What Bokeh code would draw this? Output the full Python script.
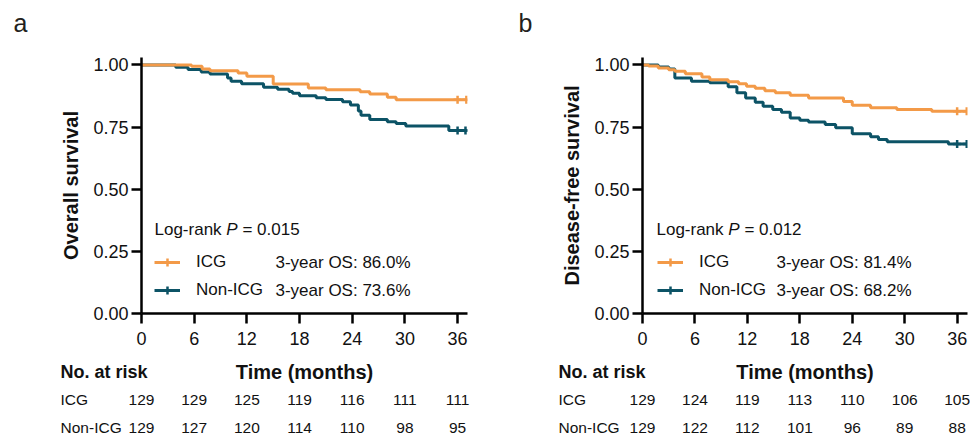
from bokeh.plotting import figure
from bokeh.models import (ColumnDataSource, FixedTicker, PrintfTickFormatter, Label,
                          Legend, LegendItem, Range1d)
from bokeh.layouts import row, column
from bokeh.core.properties import value
from bokeh.embed import file_html
from bokeh.resources import INLINE

# ---------------- data ----------------
month_ticks = [0, 6, 12, 18, 24, 30, 36]
surv_ticks = [0, 0.25, 0.5, 0.75, 1.0]
groups = ["ICG", "Non-ICG"]

os_icg_t = [0, 5.7, 6.9, 7.8, 11.0, 12.0, 15.0, 19.0, 21.0, 24.9, 26.0, 28.0, 29.0, 37.1]
os_icg_s = [1.0, 0.995, 0.984, 0.977, 0.968, 0.955, 0.923, 0.907, 0.900, 0.892, 0.883, 0.870, 0.860, 0.860]
os_non_t = [0, 3.9, 5.3, 6.8, 7.8, 9.8, 10.2, 11.4, 13.9, 15.5, 16.8, 17.2, 18.0, 19.9, 21.0,
            22.9, 23.8, 24.7, 25.0, 26.0, 28.0, 29.0, 30.1, 35.0, 37.1]
os_non_s = [1.0, 0.991, 0.982, 0.972, 0.964, 0.948, 0.934, 0.924, 0.910, 0.902, 0.893, 0.886, 0.876,
            0.868, 0.861, 0.852, 0.839, 0.815, 0.798, 0.781, 0.771, 0.764, 0.754, 0.736, 0.736]
os_icg_cens_t = [36.0, 37.0]
os_non_cens_t = [36.0, 36.9]

dfs_icg_t = [0, 0.7, 1.8, 3.0, 3.7, 4.9, 6.8, 7.7, 9.8, 11.0, 11.9, 12.9, 14.0, 15.2, 16.9, 19.0,
             23.0, 24.0, 26.1, 29.1, 33.1, 37.1]
dfs_icg_s = [1.0, 0.996, 0.988, 0.981, 0.975, 0.965, 0.952, 0.940, 0.932, 0.924, 0.914, 0.906,
             0.896, 0.888, 0.878, 0.867, 0.853, 0.838, 0.828, 0.821, 0.814, 0.814]
dfs_non_t = [0, 1.8, 3.0, 3.7, 5.6, 7.7, 9.8, 10.8, 11.8, 12.9, 13.8, 14.9, 15.9, 16.9, 18.0, 19.0,
             20.9, 22.1, 24.0, 26.1, 27.0, 28.0, 35.0, 37.1]
dfs_non_s = [1.0, 0.992, 0.984, 0.948, 0.934, 0.928, 0.912, 0.888, 0.867, 0.850, 0.834, 0.821,
             0.810, 0.787, 0.778, 0.770, 0.760, 0.747, 0.723, 0.711, 0.700, 0.691, 0.682, 0.682]
dfs_icg_cens_t = [36.0, 37.1]
dfs_non_cens_t = [36.0, 37.1]

os_risk_icg = [129, 129, 125, 119, 116, 111, 111]
os_risk_non = [129, 127, 120, 114, 110, 98, 95]
dfs_risk_icg = [129, 124, 119, 113, 110, 106, 105]
dfs_risk_non = [129, 122, 112, 101, 96, 89, 88]

os_p = "0.015"
dfs_p = "0.012"
os_rates = ["86.0%", "73.6%"]
dfs_rates = ["81.4%", "68.2%"]

# ---------------- style ----------------
ORANGE = "#F39A48"
TEAL = "#0C5366"
TXT = "#111111"
FONT = "Liberation Sans"
PXM = {"a": 8.78, "b": 8.74}   # pixels per month (layout)

LET_H = 46
KM_H = 352 - LET_H
RISK_H = 84


def letter_panel(letter, width, lx):
    lf = figure(width=width, height=LET_H, output_backend="svg", toolbar_location=None,
                x_range=Range1d(0, width), y_range=Range1d(LET_H, 0),
                min_border=0, min_border_left=0, min_border_right=0,
                min_border_top=0, min_border_bottom=0)
    lf.axis.visible = False
    lf.grid.grid_line_color = None
    lf.outline_line_color = None
    lf.text(x=[lx], y=[22], text=[letter], text_font=value(FONT), text_font_size="25px",
            text_color="#231f20", text_baseline="middle")
    return lf


def km_panel(letter, ylabel, icg_t, icg_s, non_t, non_s, icg_c, non_c, pval, rates,
             width, border_left, border_right, text_x, os_x, leg_x):
    pxm = PXM[letter]
    x_end = (width - border_left - border_right) / pxm
    p = figure(width=width, height=KM_H, output_backend="svg", toolbar_location=None,
               x_range=Range1d(0, x_end), y_range=Range1d(0, 1.03),
               min_border_left=border_left, min_border_right=border_right,
               min_border_top=57 - LET_H, min_border_bottom=39)
    p.outline_line_color = None
    p.grid.grid_line_color = None
    p.border_fill_color = "white"

    for ax in (p.xaxis[0], p.yaxis[0]):
        ax.axis_line_width = 2.5
        ax.axis_line_color = "black"
        ax.major_tick_line_width = 2.5
        ax.major_tick_line_color = "black"
        ax.major_tick_in = 0
        ax.major_tick_out = 10
        ax.minor_tick_line_color = None
        ax.major_label_text_font = FONT
        ax.major_label_text_font_size = "18px"
        ax.major_label_text_color = TXT
        ax.axis_label_text_font = FONT
        ax.axis_label_text_font_size = "20px"
        ax.axis_label_text_font_style = "bold"
        ax.axis_label_text_color = TXT
    p.xaxis.ticker = FixedTicker(ticks=month_ticks)
    p.yaxis.ticker = FixedTicker(ticks=surv_ticks)
    p.yaxis.formatter = PrintfTickFormatter(format="%.2f")
    p.yaxis.axis_label = ylabel
    p.xaxis.major_label_standoff = 8
    p.yaxis.major_label_standoff = 3
    p.yaxis.axis_label_standoff = 8

    src_non = ColumnDataSource(dict(t=non_t, s=non_s))
    src_icg = ColumnDataSource(dict(t=icg_t, s=icg_s))
    l_non = p.step(x="t", y="s", source=src_non, mode="after", line_width=3, line_color=TEAL)
    l_icg = p.step(x="t", y="s", source=src_icg, mode="after", line_width=3, line_color=ORANGE)
    c_non = p.scatter(x=non_c, y=[non_s[-1]] * len(non_c), marker="cross", size=8,
                      line_width=2.5, line_color=TEAL)
    c_icg = p.scatter(x=icg_c, y=[icg_s[-1]] * len(icg_c), marker="cross", size=8,
                      line_width=2.5, line_color=ORANGE)

    legend = Legend(items=[LegendItem(label=groups[0], renderers=[l_icg, c_icg]),
                           LegendItem(label=groups[1], renderers=[l_non, c_non])],
                    location=(leg_x, 13), glyph_width=26, glyph_height=20, label_height=20,
                    label_standoff=16, spacing=8, padding=0, margin=0,
                    border_line_color=None, background_fill_alpha=0,
                    label_text_font=FONT, label_text_font_size="17px", label_text_color=TXT)
    p.add_layout(legend)

    ly = 0.336
    p.add_layout(Label(x=text_x, y=ly, text="Log-rank", text_font=FONT, text_font_size="17px",
                       text_color=TXT, text_baseline="middle"))
    p.add_layout(Label(x=text_x, y=ly, x_offset=71.8, text="P", text_font=FONT,
                       text_font_style="italic", text_font_size="17px", text_color=TXT,
                       text_baseline="middle"))
    p.add_layout(Label(x=text_x, y=ly, x_offset=87.9, text="= " + pval, text_font=FONT,
                       text_font_size="17px", text_color=TXT, text_baseline="middle"))
    for yy, r in zip([0.205, 0.0925], rates):
        p.add_layout(Label(x=os_x, y=yy, text="3-year OS: " + r, text_font=FONT,
                           text_font_size="17px", text_color=TXT, text_baseline="middle"))
    return p, x_end


def risk_panel(letter, risk_icg, risk_non, width, border_left, x_end, lab_x):
    pxm = PXM[letter]
    r0 = 19.0 / 28.0
    rt = figure(width=width, height=RISK_H, output_backend="svg", toolbar_location=None,
                x_range=Range1d(-border_left / pxm, (width - border_left) / pxm),
                y_range=Range1d(RISK_H / 28.0 - r0, -r0),
                min_border=0, min_border_left=0, min_border_right=0,
                min_border_top=0, min_border_bottom=0)
    rt.axis.visible = False
    rt.grid.grid_line_color = None
    rt.outline_line_color = None
    rt.text(x=[lab_x], y=[0], text=["No. at risk"], text_font=value(FONT),
            text_font_size="18px", text_font_style="bold", text_color=TXT,
            text_baseline="middle")
    rt.text(x=[x_end / 2], y=[0], text=["Time (months)"], text_font=value(FONT),
            text_font_size="20px", text_font_style="bold", text_color=TXT,
            text_align="center", text_baseline="middle")
    rt.text(x=[lab_x, lab_x], y=[1, 2], text=groups, text_font=value(FONT),
            text_font_size="15.5px", text_color=TXT, text_baseline="middle")
    for rr, risk in zip([1, 2], [risk_icg, risk_non]):
        src = ColumnDataSource(dict(x=month_ticks, y=[rr] * len(month_ticks),
                                    text=[str(v) for v in risk]))
        rt.text(x="x", y="y", text="text", source=src, text_font=value(FONT),
                text_font_size="15.5px", text_color=TXT, text_align="center",
                text_baseline="middle")
    return rt


la = letter_panel("a", 490, 13)
lb = letter_panel("b", 480, 28)
ka, xa = km_panel("a", "Overall survival", os_icg_t, os_icg_s, os_non_t, os_non_s,
                  os_icg_cens_t, os_non_cens_t, os_p, os_rates, 490, 141, 23, 1.48, 15.26, 13)
kb, xb = km_panel("b", "Disease-free survival", dfs_icg_t, dfs_icg_s, dfs_non_t, dfs_non_s,
                  dfs_icg_cens_t, dfs_non_cens_t, dfs_p, dfs_rates, 480, 152, 3, 1.6, 15.33, 15)
ra = risk_panel("a", os_risk_icg, os_risk_non, 490, 141, xa, -9.22)
rb = risk_panel("b", dfs_risk_icg, dfs_risk_non, 480, 152, xb, -9.61)

layout = column(row(la, lb, spacing=0), row(ka, kb, spacing=0), row(ra, rb, spacing=0),
                spacing=0)
open("out.html", "w").write(file_html(layout, INLINE))
